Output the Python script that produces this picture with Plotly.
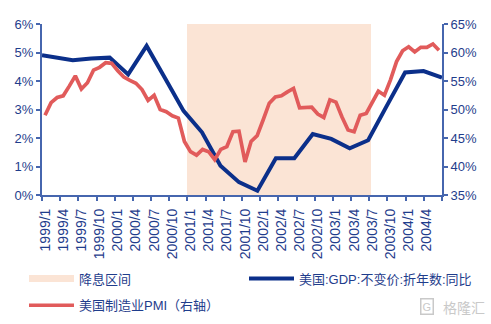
import plotly.graph_objects as go

# ---------------- data ----------------
months = [f"{y}/{m}" for y in range(1999, 2005) for m in range(1, 13)][:66]

pmi = [49.0, 51.2, 52.1, 52.4, 54.1, 55.9, 53.6, 54.7, 56.9, 57.4, 58.2, 58.1,
       56.8, 55.7, 55.1, 54.6, 53.5, 51.6, 52.5, 50.0, 49.6, 48.9, 48.5, 44.4,
       42.6, 42.0, 43.0, 42.6, 41.2, 43.0, 43.5, 46.1, 46.2, 40.8, 44.4, 45.4,
       48.2, 51.1, 52.2, 52.4, 53.1, 53.7, 50.3, 50.3, 50.4, 49.2, 48.6, 51.7,
       51.3, 48.7, 46.4, 46.1, 49.0, 49.3, 51.1, 53.2, 52.5, 55.2, 58.4, 60.3,
       61.0, 60.1, 60.9, 60.9, 61.5, 60.4]

gdp_months = ["1999/1", "1999/3", "1999/6", "1999/9", "1999/12", "2000/3", "2000/6",
              "2000/9", "2000/12", "2001/3", "2001/6", "2001/9", "2001/12", "2002/3",
              "2002/6", "2002/9", "2002/12", "2003/3", "2003/6", "2003/9", "2003/12",
              "2004/3", "2004/6"]
gdp_values = [4.90, 4.84, 4.73, 4.79, 4.82, 4.23, 5.23, 4.10, 2.95, 2.20, 1.03, 0.45,
              0.15, 1.29, 1.29, 2.14, 1.97, 1.64, 1.92, 3.12, 4.30, 4.35, 4.12]

cut_start, cut_end = "2001/1", "2003/6"

left_range = [0, 6]
right_range = [35, 65]

names = ["降息区间", "美国:GDP:不变价:折年数:同比", "美国制造业PMI（右轴）"]

# ---------------- style ----------------
NAVY = "#0B2F8A"
RED = "#E15B5B"
PEACH = "#FBE4D5"
AXIS = "#4666AE"
TXT = "#1F3D8C"
FONT = "Liberation Sans, Arial, Noto Sans CJK SC, sans-serif"

i0, i1 = months.index(cut_start), months.index(cut_end)
cut_x = list(range(i0, i1 + 1))

fig = go.Figure()

fig.add_trace(go.Bar(
    x=cut_x, y=[left_range[1]] * len(cut_x), width=1,
    marker=dict(color=PEACH, line=dict(width=0)),
    xaxis="x", yaxis="y", showlegend=False, hoverinfo="skip",
))
fig.add_trace(go.Scatter(
    x=[None], y=[None], mode="lines", name=names[0],
    line=dict(color=PEACH, width=7), xaxis="x", yaxis="y", legend="legend",
))
fig.add_trace(go.Scatter(
    x=[months.index(m) for m in gdp_months], y=gdp_values, mode="lines",
    name=names[1], line=dict(color=NAVY, width=4), xaxis="x", yaxis="y",
    legend="legend2",
))
fig.add_trace(go.Scatter(
    x=months, y=pmi, mode="lines", name=names[2],
    line=dict(color=RED, width=3.7), xaxis="x2", yaxis="y2", legend="legend3",
))

leg_common = dict(orientation="h", xanchor="left", yanchor="middle",
                  font=dict(size=13, color=TXT), bgcolor="rgba(0,0,0,0)",
                  itemwidth=45)

fig.update_layout(
    width=491, height=324,
    margin=dict(l=42, r=49, t=24, b=129, autoexpand=False),
    paper_bgcolor="white", plot_bgcolor="white",
    font=dict(family=FONT, size=13, color=TXT),
    bargap=0,
    showlegend=True,
    xaxis=dict(type="linear", range=[0, 65], visible=False, domain=[0, 1],
               fixedrange=True),
    xaxis2=dict(type="category", overlaying="x", anchor="y2", side="bottom",
                range=[-0.5, 65.5], tickmode="linear", tick0=0, dtick=3,
                tickson="boundaries", ticks="outside", ticklen=4,
                tickcolor=AXIS, tickwidth=1.5, showline=True, linecolor=AXIS,
                linewidth=2, tickangle=-90, showgrid=False,
                ticklabelstandoff=6,
                tickfont=dict(size=14, color=TXT)),
    yaxis=dict(range=left_range, dtick=1, ticksuffix="%", showline=True,
               linecolor=AXIS, linewidth=2, ticks="outside", ticklen=4,
               tickcolor=AXIS, tickwidth=1.5, showgrid=False, zeroline=False,
               anchor="x", tickfont=dict(size=13, color=TXT)),
    yaxis2=dict(range=right_range, dtick=5, ticksuffix="%", overlaying="y",
                side="right", anchor="x2", showline=True, linecolor=AXIS,
                linewidth=2, ticks="outside", ticklen=4, tickcolor=AXIS,
                tickwidth=1.5, showgrid=False, zeroline=False,
                tickfont=dict(size=13, color=TXT)),
    legend=dict(x=-0.045, y=-0.489, **leg_common),
    legend2=dict(x=0.505, y=-0.489, **leg_common),
    legend3=dict(x=-0.045, y=-0.645, **leg_common),
)

# watermark
fig.add_annotation(xref="paper", yref="paper", x=0.9625, y=-0.654,
                   xanchor="center", yanchor="middle",
                   text="G", showarrow=False, font=dict(size=11, color="#C9C9C9"),
                   bordercolor="#C9C9C9", borderwidth=1.5, borderpad=1)
fig.add_annotation(xref="paper", yref="paper", x=1.055, y=-0.654,
                   xanchor="center", yanchor="middle",
                   text="格隆汇", showarrow=False,
                   font=dict(size=14, color="#C9C9C9", family="Noto Sans CJK SC"))

fig.write_html("out.html")
